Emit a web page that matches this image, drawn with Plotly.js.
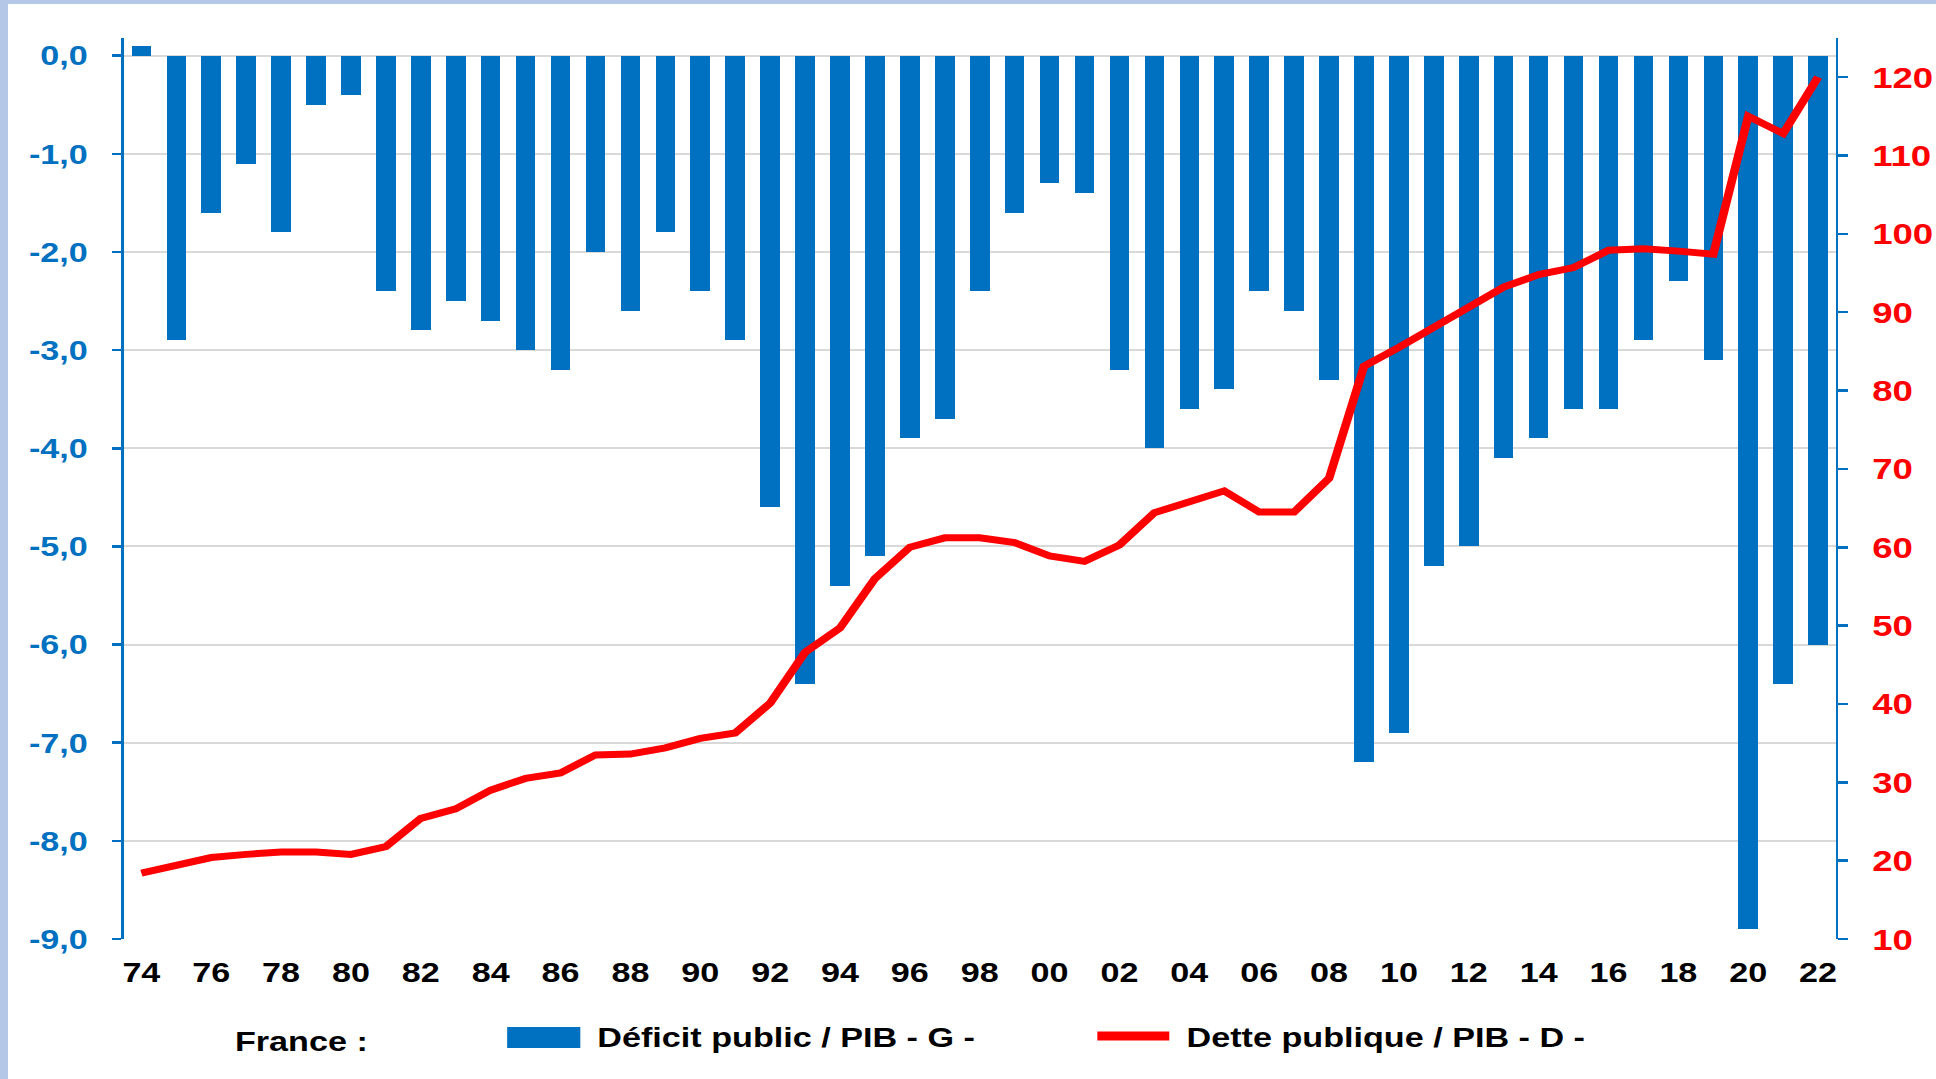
<!DOCTYPE html>
<html>
<head>
<meta charset="utf-8">
<script src="https://cdn.plot.ly/plotly-3.0.1.min.js"></script>
<style>
html,body{margin:0;padding:0;background:#b4c7e7;width:1936px;height:1079px;overflow:hidden;}
#frame{position:absolute;left:8px;top:4px;width:1928px;height:1075px;background:#ffffff;overflow:hidden;}
#chart{position:absolute;left:0;top:0;width:1580px;height:1075px;transform:scale(1.22,1);transform-origin:0 0;}
</style>
</head>
<body>
<div id="frame"><div id="chart"></div></div>
<script>
// ---- Data ----
const years = [1974,1975,1976,1977,1978,1979,1980,1981,1982,1983,1984,1985,1986,1987,1988,1989,
  1990,1991,1992,1993,1994,1995,1996,1997,1998,1999,2000,2001,2002,2003,2004,2005,2006,2007,2008,2009,
  2010,2011,2012,2013,2014,2015,2016,2017,2018,2019,2020,2021,2022];
const deficit = [0.1,-2.9,-1.6,-1.1,-1.8,-0.5,-0.4,-2.4,-2.8,-2.5,-2.7,-3.0,-3.2,-2.0,-2.6,-1.8,
  -2.4,-2.9,-4.6,-6.4,-5.4,-5.1,-3.9,-3.7,-2.4,-1.6,-1.3,-1.4,-3.2,-4.0,-3.6,-3.4,-2.4,-2.6,-3.3,-7.2,
  -6.9,-5.2,-5.0,-4.1,-3.9,-3.6,-3.6,-2.9,-2.3,-3.1,-8.9,-6.4,-6.0];
const debt = [18.4,19.5,20.4,20.8,21.1,21.1,20.8,21.8,25.4,26.6,29.0,30.5,31.2,33.5,33.6,34.4,
  35.6,36.3,40.1,46.6,49.7,56.0,60.0,61.2,61.2,60.6,58.9,58.2,60.3,64.4,65.8,67.2,64.5,64.5,68.8,83.1,
  85.5,88.0,90.7,93.2,94.8,95.7,97.9,98.1,97.8,97.4,115.0,112.8,120.0];
const xTickVals = [1974,1976,1978,1980,1982,1984,1986,1988,1990,1992,1994,1996,1998,2000,2002,2004,
  2006,2008,2010,2012,2014,2016,2018,2020,2022];
const xTickText = ['74','76','78','80','82','84','86','88','90','92','94','96','98','00','02','04',
  '06','08','10','12','14','16','18','20','22'];
const leftTickVals = [0,-1,-2,-3,-4,-5,-6,-7,-8,-9];
const leftTickText = ['0,0','-1,0','-2,0','-3,0','-4,0','-5,0','-6,0','-7,0','-8,0','-9,0'];
const rightTickVals = [10,20,30,40,50,60,70,80,90,100,110,120];
const rightTickText = ['10','20','30','40','50','60','70','80','90','100','110','120'];
const legendTitle = 'France :';
const seriesNames = ['Déficit public / PIB - G -', 'Dette publique / PIB - D -'];

// ---- Styles / geometry ----
const BLUE = '#0070c0', RED = '#ff0000';
const FONT = 'Liberation Sans, Arial, Helvetica, sans-serif';
const W = 1580, H = 1075;
const M = {l: 94.7, r: 81.6, t: 34, b: 140};
const plotW = W - M.l - M.r, plotH = H - M.t - M.b, plotB = H - M.b;
const pxX = x => (x - M.l) / plotW;
const pxY = y => (plotB - y) / plotH;
const leftRange = [-9, 0.18];
const rightRange = [10, 125];
const xRange = [1973.5, 2022.5];

const traces = [
  {type: 'bar', x: years, y: deficit, name: seriesNames[0], xaxis: 'x', yaxis: 'y',
   marker: {color: BLUE, line: {width: 0}}, width: 0.56, showlegend: false, hoverinfo: 'x+y'},
  {type: 'scatter', mode: 'lines', x: years, y: debt, name: seriesNames[1], xaxis: 'x', yaxis: 'y2',
   line: {color: RED, width: 7}, showlegend: false}
];

const layout = {
  width: W, height: H,
  margin: M,
  paper_bgcolor: 'rgba(0,0,0,0)', plot_bgcolor: 'rgba(0,0,0,0)',
  showlegend: false,
  bargap: 0,
  xaxis: {range: xRange, tickmode: 'array', tickvals: xTickVals, ticktext: xTickText,
    ticks: '', showgrid: false, zeroline: false, showline: false, ticklabelstandoff: 14,
    tickfont: {family: FONT, size: 28, color: '#000000', weight: 'bold'}},
  xaxis2: {overlaying: 'x', anchor: 'free', position: 9 / 9.18, side: 'bottom', range: xRange,
    tickmode: 'linear', tick0: 1975.5, dtick: 2, ticks: 'inside', ticklen: 7, tickwidth: 1.5,
    tickcolor: '#c8c8c8', showticklabels: false, showgrid: false, zeroline: false, showline: false},
  yaxis: {range: leftRange, tickmode: 'array', tickvals: leftTickVals, ticktext: leftTickText,
    ticks: 'outside', ticklen: 8, tickwidth: 2.5, tickcolor: BLUE,
    showline: true, linecolor: BLUE, linewidth: 2,
    showgrid: true, gridcolor: '#d9d9d9', gridwidth: 2, zeroline: false, ticklabelstandoff: 14,
    tickfont: {family: FONT, size: 28, color: BLUE, weight: 'bold'}},
  yaxis3: {overlaying: 'y', side: 'left', anchor: 'x', range: leftRange, tickmode: 'array',
    tickvals: leftTickVals, ticks: 'inside', ticklen: 8, tickwidth: 2.5, tickcolor: BLUE,
    showticklabels: false, showgrid: false, zeroline: false, showline: false},
  yaxis2: {overlaying: 'y', side: 'right', anchor: 'x', range: rightRange, tickmode: 'array',
    tickvals: rightTickVals, ticktext: rightTickText,
    ticks: 'outside', ticklen: 8, tickwidth: 2.5, tickcolor: BLUE,
    showline: true, linecolor: BLUE, linewidth: 2,
    showgrid: false, zeroline: false, ticklabelstandoff: 14,
    tickfont: {family: FONT, size: 30, color: RED, weight: 'bold'}},
  yaxis4: {overlaying: 'y', side: 'right', anchor: 'x', range: rightRange, tickmode: 'array',
    tickvals: rightTickVals, ticks: 'inside', ticklen: 8, tickwidth: 2.5, tickcolor: BLUE,
    showticklabels: false, showgrid: false, zeroline: false, showline: false},
  shapes: [
    {type: 'rect', xref: 'paper', yref: 'paper', x0: pxX(409), x1: pxX(469), y0: pxY(1044), y1: pxY(1023),
     fillcolor: BLUE, line: {width: 0}},
    {type: 'line', xref: 'paper', yref: 'paper', x0: pxX(893), x1: pxX(952), y0: pxY(1032), y1: pxY(1032),
     line: {color: RED, width: 9}}
  ],
  annotations: [
    {xref: 'paper', yref: 'paper', x: pxX(240), y: pxY(1037), xanchor: 'center', yanchor: 'middle',
     text: legendTitle, showarrow: false, font: {family: FONT, size: 28, color: '#000000', weight: 'bold'}},
    {xref: 'paper', yref: 'paper', x: pxX(481), y: pxY(1033), xanchor: 'left', yanchor: 'middle',
     text: seriesNames[0], showarrow: false, font: {family: FONT, size: 28, color: '#000000', weight: 'bold'}},
    {xref: 'paper', yref: 'paper', x: pxX(964), y: pxY(1033), xanchor: 'left', yanchor: 'middle',
     text: seriesNames[1], showarrow: false, font: {family: FONT, size: 28, color: '#000000', weight: 'bold'}}
  ]
};

Plotly.newPlot('chart', traces, layout, {staticPlot: true, displayModeBar: false});
</script>
</body>
</html>
